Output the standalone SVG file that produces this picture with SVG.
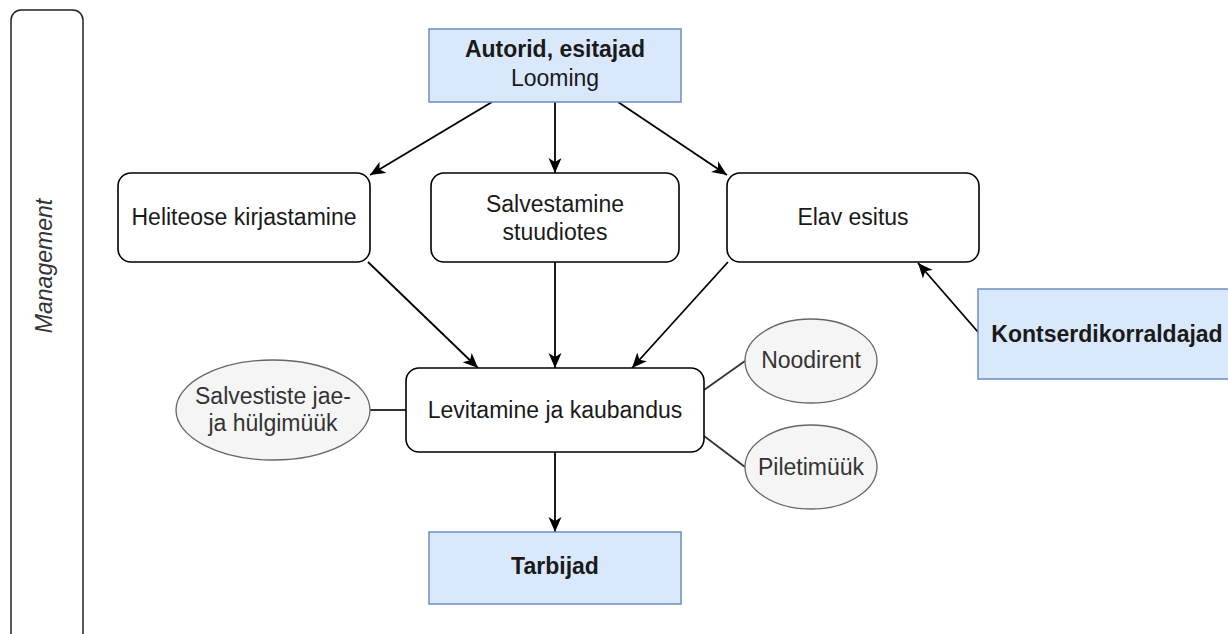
<svg xmlns="http://www.w3.org/2000/svg" width="1228" height="634" viewBox="0 0 1228 634">
<style>
text{font-family:"Liberation Sans",Arial,sans-serif;font-size:23px;text-anchor:middle;fill:#1a1a1a}
.b{font-weight:bold}
.blue{fill:#dae8fc;stroke:#6c8ebf;stroke-width:1.5}
.box{fill:#ffffff;stroke:#000000;stroke-width:1.6}
.ell{fill:#f5f5f5;stroke:#666666;stroke-width:1.3}
.et{fill:#333333}
.arr{stroke:#000;stroke-width:1.8;fill:none;marker-end:url(#ah)}
.ln{stroke:#333;stroke-width:1.8;fill:none}
</style>
<defs>
<marker id="ah" markerUnits="userSpaceOnUse" markerWidth="16" markerHeight="14" refX="15" refY="7" orient="auto">
<path d="M0,0.5 L15,7 L0,13.5 L4,7 z" fill="#000"/>
</marker>
</defs>
<g id="management">
<rect x="11" y="10" width="72" height="660" rx="10" fill="#fff" stroke="#222" stroke-width="1.5"/>
<text transform="translate(52,266) rotate(-90)" font-style="italic" class="et">Management</text>
</g>
<g id="connectors">
<line class="arr" x1="492" y1="102" x2="370" y2="175"/>
<line class="arr" x1="555" y1="102" x2="555" y2="173"/>
<line class="arr" x1="618" y1="102" x2="727" y2="175"/>
<line class="arr" x1="368" y1="262" x2="478" y2="368"/>
<line class="arr" x1="555" y1="262" x2="555" y2="368"/>
<line class="arr" x1="728" y1="262" x2="632" y2="368"/>
<line class="arr" x1="555" y1="452" x2="555" y2="532"/>
<line class="arr" x1="978" y1="332" x2="918" y2="263"/>
<line class="ln" x1="370" y1="410" x2="406" y2="410"/>
<line class="ln" x1="704" y1="390" x2="745" y2="361"/>
<line class="ln" x1="704" y1="436" x2="745" y2="467"/>
</g>
<g id="autorid">
<rect class="blue" x="429" y="29" width="252" height="73"/>
<text class="b" x="555" y="57">Autorid, esitajad</text>
<text x="555" y="86">Looming</text>
</g>
<g id="heliteose">
<rect class="box" x="118" y="173" width="252" height="89" rx="13"/>
<text x="244" y="225">Heliteose kirjastamine</text>
</g>
<g id="salvestamine">
<rect class="box" x="431" y="173" width="248" height="89" rx="13"/>
<text x="555" y="212">Salvestamine</text>
<text x="555" y="240">stuudiotes</text>
</g>
<g id="elav">
<rect class="box" x="727" y="173" width="252" height="89" rx="13"/>
<text x="853" y="225">Elav esitus</text>
</g>
<g id="kontserdi">
<rect class="blue" x="978" y="289" width="260" height="90"/>
<text class="b" x="1107" y="342">Kontserdikorraldajad</text>
</g>
<g id="levitamine">
<rect class="box" x="406" y="368" width="298" height="84" rx="13"/>
<text x="555" y="418">Levitamine ja kaubandus</text>
</g>
<g id="salvestiste">
<ellipse class="ell" cx="273" cy="410" rx="97" ry="50"/>
<text class="et" x="273" y="404">Salvestiste jae-</text>
<text class="et" x="273" y="431">ja hülgimüük</text>
</g>
<g id="noodirent">
<ellipse class="ell" cx="811" cy="361" rx="66" ry="42"/>
<text class="et" x="811" y="368">Noodirent</text>
</g>
<g id="piletimuuk">
<ellipse class="ell" cx="811" cy="467" rx="66" ry="42"/>
<text class="et" x="811" y="475">Piletimüük</text>
</g>
<g id="tarbijad">
<rect class="blue" x="429" y="532" width="252" height="72"/>
<text class="b" x="555" y="574">Tarbijad</text>
</g>
</svg>
